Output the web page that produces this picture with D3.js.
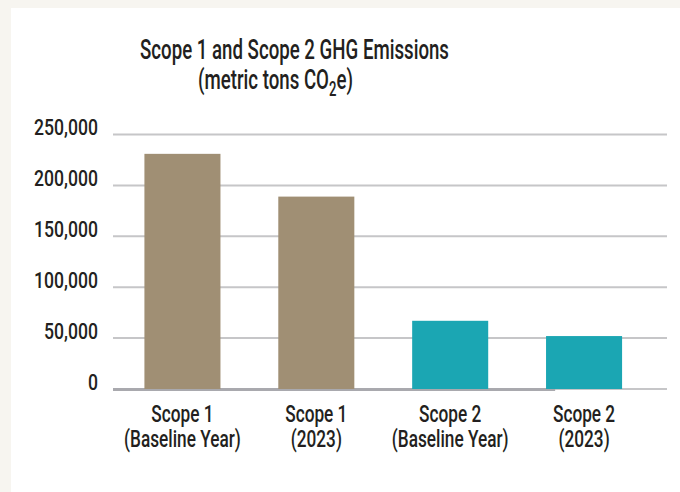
<!DOCTYPE html>
<html>
<head>
<meta charset="utf-8">
<script src="https://cdn.jsdelivr.net/npm/d3@7"></script>
<style>
  html, body { margin: 0; padding: 0; background: #f7f5f0; }
  svg { display: block; }
  text { font-family: Roboto, "Liberation Sans", sans-serif; fill: #231f20; }
</style>
</head>
<body>
<script>
const categories = ["Scope 1|(Baseline Year)", "Scope 1|(2023)", "Scope 2|(Baseline Year)", "Scope 2|(2023)"];
const values = [231000, 189000, 67000, 52000];
const groups = ["Scope 1", "Scope 1", "Scope 2", "Scope 2"];
const yTicks = [0, 50000, 100000, 150000, 200000, 250000];
const titleLine1 = "Scope 1 and Scope 2 GHG Emissions";

const W = 680, H = 492;

const svg = d3.select("body").append("svg").attr("width", W).attr("height", H);
svg.append("rect").attr("width", W).attr("height", H).attr("fill", "#f7f5f0");
svg.append("rect").attr("x", 11).attr("y", 8).attr("width", W - 11).attr("height", H - 8).attr("fill", "#ffffff");

const plotLeft = 113, plotRight = 667;
const y = d3.scaleLinear().domain([0, 250000]).range([389, 134.5]);
const x = d3.scaleBand().domain(categories).range([115.5, 651]).paddingInner(0.432).paddingOuter(0.216);
const color = d3.scaleOrdinal().domain(["Scope 1", "Scope 2"]).range(["#a08f74", "#1ba6b3"]);

// condensed text helper
function ctext(sel, px, py, anchor, sx) {
  return sel.append("text")
    .attr("transform", `translate(${px},${py}) scale(${sx},1)`)
    .attr("text-anchor", anchor)
    .attr("font-weight", 500);
}

// Title (one text element, two lines)
const TS = 0.655;
const title = ctext(svg, 294.5, 59, "middle", TS).attr("font-size", 28.5);
title.append("tspan").attr("x", 0).attr("y", 0).text(titleLine1);
title.append("tspan").attr("x", (275.5 - 294.5) / TS).attr("y", 30).text("(metric tons CO");
title.append("tspan").attr("font-size", 20).attr("dy", 7).text("2");
title.append("tspan").attr("dy", -7).text("e)");

// Gridlines
const grid = svg.append("g");
grid.selectAll("line").data(yTicks).join("line")
  .attr("x1", plotLeft).attr("x2", plotRight)
  .attr("y1", d => y(d)).attr("y2", d => y(d))
  .attr("stroke", "#c6c6c8").attr("stroke-width", 2);

// darker baseline segment
svg.append("line")
  .attr("x1", plotLeft)
  .attr("x2", x(categories[2]) + x.bandwidth() + x.step() * 0.5)
  .attr("y1", y(0) + 0.5).attr("y2", y(0) + 0.5)
  .attr("stroke", "#a9a9ae").attr("stroke-width", 3);

// Y tick labels
const fmt = d3.format(",");
yTicks.forEach(t => {
  ctext(svg, 98, y(t) - 5, "end", 0.80).attr("font-size", 22).attr("dominant-baseline", "middle").text(fmt(t));
});

// Bars
svg.append("g").selectAll("rect").data(values).join("rect")
  .attr("x", (d, i) => x(categories[i]))
  .attr("width", x.bandwidth())
  .attr("y", d => y(d))
  .attr("height", d => y(0) - y(d))
  .attr("fill", (d, i) => color(groups[i]));

// Category labels
categories.forEach(c => {
  const [l1, l2] = c.split("|");
  const cx = x(c) + x.bandwidth() / 2;
  const t = ctext(svg, cx, 422, "middle", 0.75).attr("font-size", 23);
  t.append("tspan").attr("x", 0).attr("y", 0).text(l1);
  t.append("tspan").attr("x", 0).attr("y", 25).text(l2);
});
</script>
</body>
</html>
